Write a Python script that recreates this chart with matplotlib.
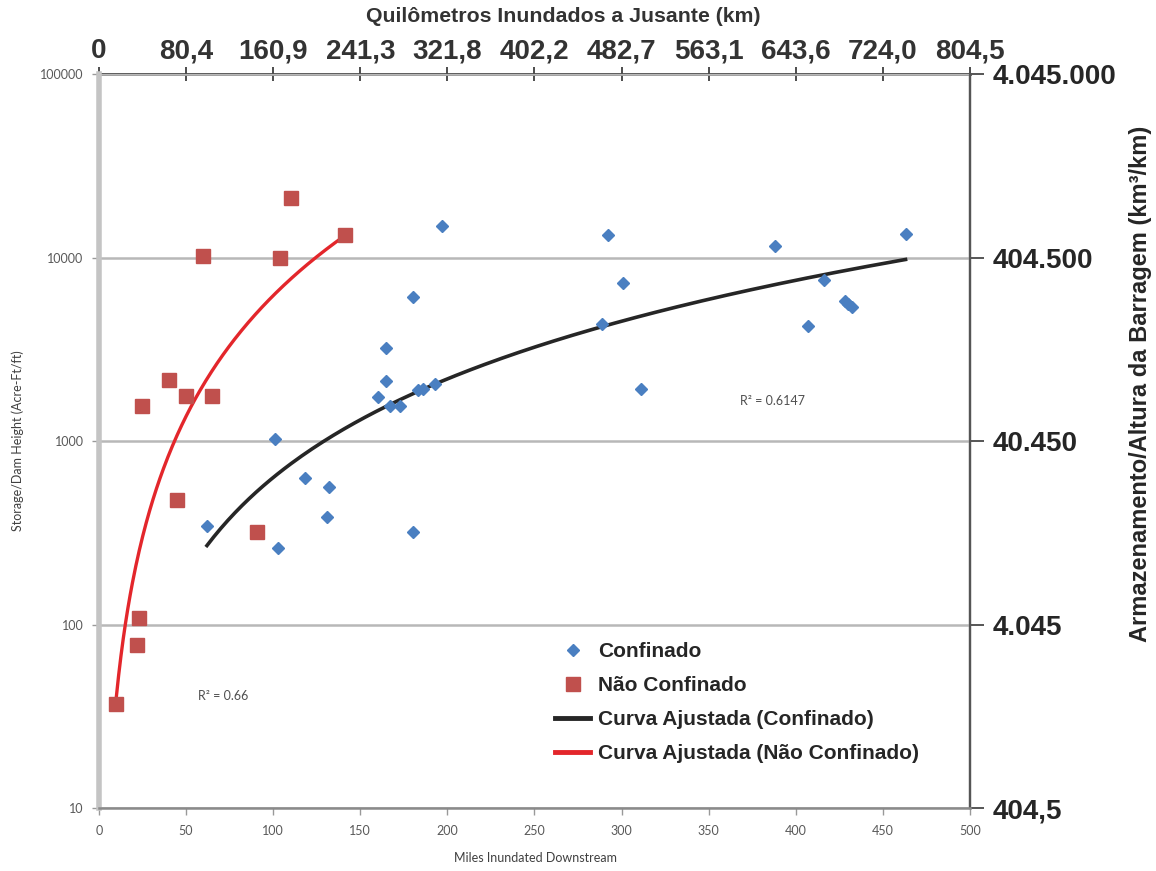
import numpy as np
import matplotlib
matplotlib.use("Agg")
import matplotlib.pyplot as plt
from matplotlib.lines import Line2D
from matplotlib.ticker import NullLocator, FixedLocator
from matplotlib.font_manager import FontProperties, findfont

# ---------------- data ----------------
conf_miles = [62, 101, 103, 118, 131, 132, 160, 165, 165, 167, 173, 180, 180,
              183, 186, 193, 197, 289, 292, 301, 311, 388, 407, 416, 428, 430,
              432, 463]
conf_storage = [343, 1020, 261, 627, 387, 561, 1740, 3210, 2135, 1545, 1545,
                6090, 318, 1905, 1930, 2050, 14800, 4330, 13300, 7250, 1920,
                11500, 4250, 7560, 5760, 5550, 5350, 13450]

unconf_miles = [10, 22, 23, 24.5, 40, 45, 50, 60, 65, 91, 104, 110, 141]
unconf_storage = [37, 77, 109, 1550, 2150, 475, 1750, 10250, 1750, 320, 9900,
                  21000, 13300]

miles_ticks = [0, 50, 100, 150, 200, 250, 300, 350, 400, 450, 500]
km_tick_labels = ["0", "80,4", "160,9", "241,3", "321,8", "402,2", "482,7",
                  "563,1", "643,6", "724,0", "804,5"]
storage_ticks = [10, 100, 1000, 10000, 100000]
storage_tick_labels = ["10", "100", "1000", "10000", "100000"]
metric_tick_labels = ["404,5", "4.045", "40.450", "404.500", "4.045.000"]

legend_labels = ["Confinado", "Não Confinado", "Curva Ajustada (Confinado)",
                 "Curva Ajustada (Não Confinado)"]
r2_conf_text = "R² = 0.6147"
r2_unconf_text = "R² = 0.66"

# ---------------- style ----------------
BLUE = "#4a7fc1"
RED = "#c0504d"
RED_LINE = "#e3262b"
BLACK_LINE = "#262626"
SMALL = ["Lato", "DejaVu Sans"]
BOLD = ["Liberation Sans", "DejaVu Sans"]

# condensed bold font for the right-hand title, if available
try:
    findfont(FontProperties(family="Liberation Sans Narrow", weight="bold"),
             fallback_to_default=False)
    RIGHT_FAMILY, RIGHT_SIZE = ["Liberation Sans Narrow", "DejaVu Sans"], 21.5
except Exception:
    RIGHT_FAMILY, RIGHT_SIZE = BOLD, 17


def power_fit(x, y, n=200):
    x = np.asarray(x, float)
    y = np.asarray(y, float)
    b, ln_a = np.polyfit(np.log(x), np.log(y), 1)
    xs = np.linspace(x.min(), x.max(), n)
    return xs, np.exp(ln_a) * xs ** b


fig = plt.figure(figsize=(11.56, 8.71), dpi=100)
ax = fig.add_axes([0.0856, 0.0723, 0.7535, 0.8427])
ax.set_xlim(0, 500)
ax.set_yscale("log")
ax.set_ylim(10, 100000)

# grid
ax.yaxis.grid(True, which="major", color="#b8b8b8", lw=1.8)
ax.set_axisbelow(True)

# fitted curves
xs, ys = power_fit(unconf_miles, unconf_storage)
ax.plot(xs, ys, color=RED_LINE, lw=2.4, zorder=3)
xs, ys = power_fit(conf_miles, conf_storage)
ax.plot(xs, ys, color=BLACK_LINE, lw=2.6, zorder=3)

# scatter
ax.plot(conf_miles, conf_storage, ls="none", marker="D", ms=6.6,
        color=BLUE, mec=BLUE, zorder=4)
ax.plot(unconf_miles, unconf_storage, ls="none", marker="s", ms=9.5,
        color=RED, mec=RED, zorder=4)

# R^2 annotations
ax.text(57, 41, r2_unconf_text, fontsize=9, color="#505050",
        family=SMALL, va="center", ha="left")
ax.text(368, 1650, r2_conf_text, fontsize=9, color="#505050",
        family=SMALL, va="center", ha="left")

# spines
ax.spines["left"].set_color("#c4c4c4")
ax.spines["left"].set_linewidth(4)
ax.spines["bottom"].set_color("#8a8a8a")
ax.spines["bottom"].set_linewidth(1.8)
ax.spines["top"].set_visible(False)
ax.spines["right"].set_color("#555555")
ax.spines["right"].set_linewidth(1.6)

# bottom / left ticks
ax.xaxis.set_major_locator(FixedLocator(miles_ticks))
ax.set_xticklabels([str(t) for t in miles_ticks])
ax.yaxis.set_major_locator(FixedLocator(storage_ticks))
ax.yaxis.set_minor_locator(NullLocator())
ax.set_yticklabels(storage_tick_labels)
ax.tick_params(axis="x", direction="out", length=5, width=1, color="#999999",
               labelsize=9, labelcolor="#595959", pad=7)
ax.tick_params(axis="y", direction="out", length=5, width=1, color="#999999",
               labelsize=9, labelcolor="#595959", pad=6, right=False)
for lbl in ax.get_xticklabels() + ax.get_yticklabels():
    lbl.set_family(SMALL)

# top secondary axis (km)
secx = ax.secondary_xaxis("top")
secx.set_xticks(miles_ticks)
secx.set_xticklabels(km_tick_labels)
secx.spines["top"].set_color("#4d4d4d")
secx.spines["top"].set_linewidth(2)
secx.tick_params(direction="inout", length=10, width=1.4, color="#4d4d4d",
                 labelsize=20, labelcolor="#333333", pad=2)
for lbl in secx.get_xticklabels():
    lbl.set_family(BOLD)
    lbl.set_fontweight("bold")

# right secondary axis (metric)
secy = ax.secondary_yaxis("right")
secy.set_yticks(storage_ticks)
secy.set_yticklabels(metric_tick_labels)
secy.yaxis.set_minor_locator(NullLocator())
secy.spines["right"].set_color("#555555")
secy.spines["right"].set_linewidth(1.6)
secy.tick_params(direction="out", length=10, width=1.4, color="#555555",
                 labelsize=20, labelcolor="#262626", pad=6)
for lbl in secy.get_yticklabels():
    lbl.set_family(BOLD)
    lbl.set_fontweight("bold")

# axis titles
fig.text(535 / 1156, 1 - 858 / 871, "Miles Inundated Downstream",
         fontsize=9, color="#404040", family=SMALL, ha="center", va="center")
fig.text(18 / 1156, 1 - 441 / 871, "Storage/Dam Height (Acre-Ft/ft)",
         fontsize=9, color="#404040", family=SMALL, ha="center", va="center",
         rotation=90)
fig.text(563 / 1156, 1 - 17 / 871, "Quilômetros Inundados a Jusante (km)",
         fontsize=15.3, color="#333333", family=BOLD, weight="bold",
         ha="center", va="center")
fig.text(1140 / 1156, 1 - 384 / 871,
         "Armazenamento/Altura da Barragem (km³/km)",
         fontsize=RIGHT_SIZE, color="#262626", family=RIGHT_FAMILY,
         weight="bold", ha="center", va="center", rotation=90)

# legend
handles = [
    Line2D([], [], ls="none", marker="D", ms=6.6, color=BLUE),
    Line2D([], [], ls="none", marker="s", ms=9.5, color=RED),
    Line2D([], [], color=BLACK_LINE, lw=3.5),
    Line2D([], [], color=RED_LINE, lw=3.5),
]
leg = ax.legend(handles, legend_labels, loc="upper left",
                bbox_to_anchor=(0.524, 0.226), frameon=False,
                prop=FontProperties(family=BOLD, weight="bold", size=15),
                handlelength=1.65, handletextpad=0.4, labelspacing=0.72,
                borderpad=0, borderaxespad=0)
for t in leg.get_texts():
    t.set_color("#262626")

fig.savefig("out.png", dpi=100, facecolor="white")
